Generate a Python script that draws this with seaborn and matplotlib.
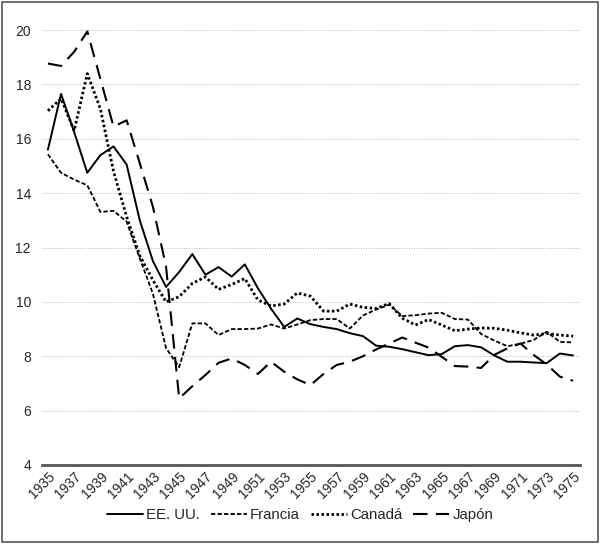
import numpy as np
import pandas as pd
import matplotlib
matplotlib.use("Agg")
import matplotlib.pyplot as plt
import seaborn as sns
from matplotlib.patches import Rectangle
from matplotlib.lines import Line2D

years = list(range(1935, 1976))
countries = ["EE. UU.", "Francia", "Canadá", "Japón"]

eeuu = [15.6, 17.65, 16.25, 14.75, 15.4, 15.72, 15.05, 13.0, 11.5, 10.55,
        11.1, 11.76, 11.0, 11.28, 10.93, 11.38, 10.5, 9.75, 9.08, 9.39,
        9.18, 9.08, 9.0, 8.85, 8.74, 8.39, 8.35, 8.26, 8.15, 8.04,
        8.08, 8.37, 8.41, 8.33, 8.03, 7.8, 7.8, 7.77, 7.75, 8.1, 8.03]
francia = [15.43, 14.75, 14.5, 14.29, 13.31, 13.35, 12.95, 11.6, 10.3, 8.3,
           7.6, 9.21, 9.21, 8.78, 9.0, 9.0, 9.02, 9.17, 9.02, 9.17,
           9.33, 9.37, 9.37, 9.02, 9.5, 9.72, 9.9, 9.48, 9.51, 9.57,
           9.6, 9.37, 9.35, 8.82, 8.58, 8.37, 8.46, 8.6, 8.9, 8.53, 8.51]
canada = [17.03, 17.48, 16.3, 18.4, 17.1, 14.8, 13.13, 11.7, 10.8, 10.0,
          10.19, 10.68, 10.92, 10.46, 10.64, 10.86, 10.07, 9.85, 9.92, 10.33,
          10.21, 9.66, 9.66, 9.92, 9.8, 9.76, 9.94, 9.4, 9.15, 9.35,
          9.15, 8.94, 9.0, 9.04, 9.03, 8.96, 8.86, 8.78, 8.84, 8.78, 8.74]
japon = [18.77, 18.68, 19.2, 19.95, 18.2, 16.45, 16.68, 15.1, 13.5, 11.3,
         6.45, 6.9, 7.31, 7.76, 7.92, 7.68, 7.35, 7.8, 7.43, 7.15,
         6.94, 7.35, 7.68, 7.8, 8.0, 8.25, 8.47, 8.69, 8.5, 8.32,
         7.98, 7.64, 7.62, 7.57, 8.05, 8.29, 8.47, 8.05, 7.7, 7.25, 7.1]

yticks = [4, 6, 8, 10, 12, 14, 16, 18, 20]
xticks = list(range(1935, 1976, 2))

df = pd.DataFrame({
    "Año": years * 4,
    "Valor": eeuu + francia + canada + japon,
    "País": np.repeat(countries, len(years)),
})

sns.set_style("white")
plt.rcParams['font.family'] = ['Liberation Sans', 'DejaVu Sans']

fig = plt.figure(figsize=(6, 5.45), dpi=100)
ax = fig.add_axes([0.07, 0.1468, 0.897, 0.798])

dash_list = ["", (2.4, 1.2), (0.9, 0.9), (7.0, 4.0)]
sns.lineplot(data=df, x="Año", y="Valor", hue="País", style="País",
             hue_order=countries, style_order=countries,
             palette=["black"] * 4, dashes=dash_list, linewidth=1.4,
             ax=ax, legend=False)

lws = [1.4, 1.3, 2.0, 1.5]
for ln, lw in zip(ax.get_lines()[:4], lws):
    ln.set_linewidth(lw)

ax.set_xlim(1934.55, 1975.55)
ax.set_ylim(4, 20)
ax.set_yticks(yticks)
ax.set_xticks(xticks)
ax.set_xticklabels([str(x) for x in xticks], rotation=45, ha='right',
                   rotation_mode='anchor', fontsize=10)
ax.tick_params(axis='y', length=0, pad=8, labelsize=10)
ax.tick_params(axis='x', length=0, pad=3)
ax.set_xlabel("")
ax.set_ylabel("")
ax.yaxis.grid(True, linestyle=(0, (1, 1.6)), color='#b5b5b5', linewidth=0.7)
ax.xaxis.grid(False)
ax.set_axisbelow(True)
for s in ['left', 'top', 'right']:
    ax.spines[s].set_visible(False)
ax.spines['bottom'].set_color('#555555')
ax.spines['bottom'].set_linewidth(2)

handles = []
for i, c in enumerate(countries):
    ls = '-' if dash_list[i] == "" else (0, dash_list[i])
    handles.append(Line2D([0], [0], color='black', lw=lws[i], linestyle=ls))
fig.legend(handles, countries, loc='center', bbox_to_anchor=(0.5, 0.055),
           ncol=4, frameon=False, fontsize=10.8, handlelength=2.4,
           handletextpad=0.2, columnspacing=0.75)

fig.patches.append(Rectangle((0.004, 0.006), 0.992, 0.99, transform=fig.transFigure,
                             fill=False, edgecolor='#555555', linewidth=1.2))

fig.savefig("out.png", dpi=100)
